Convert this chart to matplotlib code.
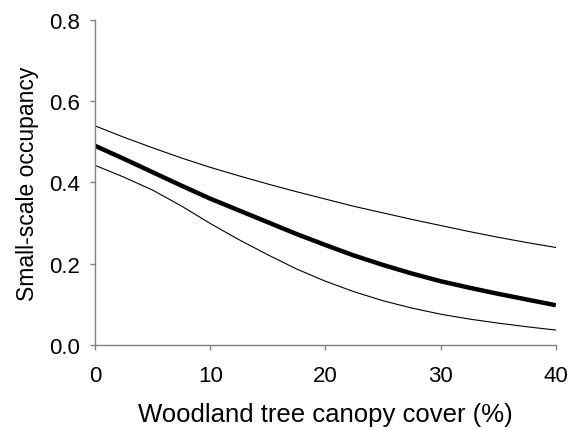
import matplotlib
matplotlib.use("Agg")
import matplotlib.pyplot as plt

# Canopy cover (%) and fitted occupancy with confidence limits
canopy = [0, 2.5, 5, 7.5, 10, 12.5, 15, 17.5, 20, 22.5, 25, 27.5, 30, 32.5, 35, 37.5, 40]
occ_mean = [0.490, 0.458, 0.425, 0.392, 0.360, 0.331, 0.302, 0.273, 0.246,
            0.220, 0.197, 0.176, 0.157, 0.141, 0.126, 0.112, 0.098]
occ_upper = [0.539, 0.511, 0.485, 0.460, 0.437, 0.416, 0.396, 0.377, 0.359,
             0.341, 0.325, 0.309, 0.294, 0.279, 0.265, 0.252, 0.240]
occ_lower = [0.442, 0.413, 0.381, 0.342, 0.299, 0.259, 0.222, 0.187, 0.157,
             0.131, 0.109, 0.091, 0.076, 0.064, 0.054, 0.045, 0.037]

x_ticks = [0, 10, 20, 30, 40]
y_ticks = [0.0, 0.2, 0.4, 0.6, 0.8]

plt.rcParams['font.family'] = ['Liberation Sans', 'DejaVu Sans']

fig = plt.figure(figsize=(5.76, 4.31), dpi=100)
ax = fig.add_axes([0.165, 0.197, 0.800, 0.755])

ax.plot(canopy, occ_upper, color='black', linewidth=0.8)
ax.plot(canopy, occ_lower, color='black', linewidth=0.8)
ax.plot(canopy, occ_mean, color='black', linewidth=3.2, solid_capstyle='butt')

ax.set_xlim(0, 40)
ax.set_ylim(0, 0.8)
ax.set_xticks(x_ticks)
ax.set_yticks(y_ticks)
ax.set_yticklabels(['%.1f' % v for v in y_ticks])

for side in ['top', 'right']:
    ax.spines[side].set_visible(False)
for side in ['left', 'bottom']:
    ax.spines[side].set_color('#808080')
    ax.spines[side].set_linewidth(1.0)

ax.tick_params(axis='both', direction='out', length=3.5, width=1.0, color='#808080', labelsize=16)
ax.tick_params(axis='y', pad=7.5)
ax.tick_params(axis='x', pad=11)

ax.set_xlabel('Woodland tree canopy cover (%)', fontsize=18.5, labelpad=11)
ax.set_ylabel('Small-scale occupancy', fontsize=16.5, labelpad=7)

fig.savefig('out.png', dpi=100)
